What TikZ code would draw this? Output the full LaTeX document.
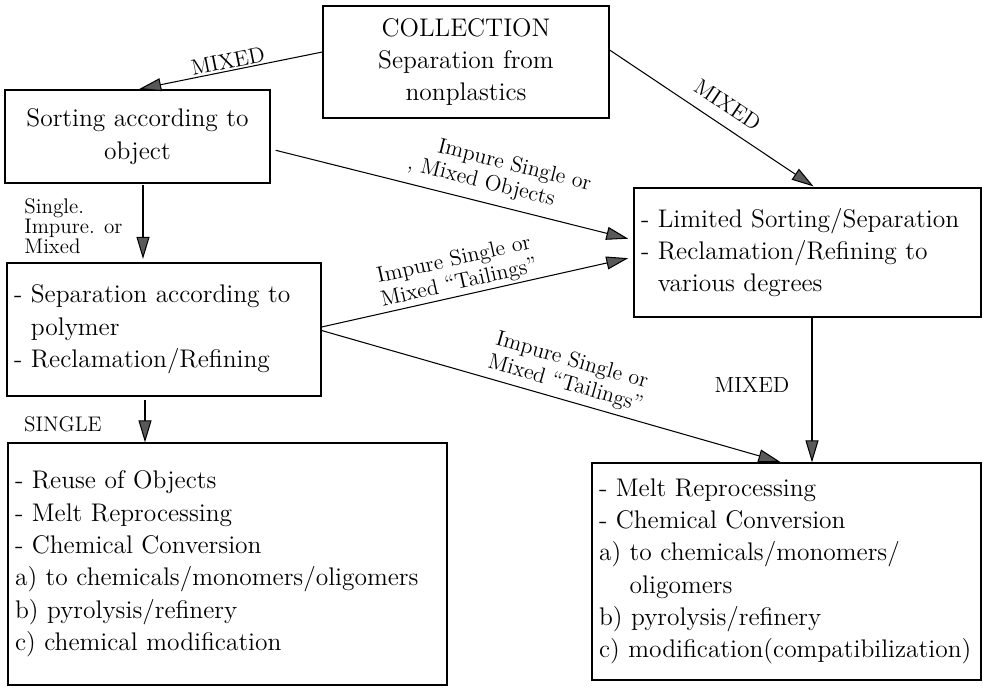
\documentclass[tikz,border=0pt]{standalone}
\usepackage{tikz}
\usetikzlibrary{arrows.meta}

\begin{document}
\begin{tikzpicture}[x=0.02cm, y=-0.02cm,
  box/.style={draw, line width=0.7pt, inner xsep=4pt, inner ysep=0pt, align=left, font=\fontsize{14.5}{18.4}\selectfont},
  lab/.style={font=\fontsize{12.5}{13.5}\selectfont, inner sep=1pt},
  small/.style={font=\fontsize{12}{11.6}\selectfont, inner sep=0pt},
  arr/.style={line width=0.6pt, -{Triangle[length=4.4mm, width=2.6mm, fill=black!65]}}]

\useasboundingbox (0,0) rectangle (983,687);

\node[box, align=center, text width=5.44cm, minimum height=2.24cm] (collect) at (466,62) {COLLECTION\\Separation from\\nonplastics};
\node[box, align=center, text width=5.02cm, minimum height=1.86cm] (sortobj) at (137.5,136.5) {Sorting according to\\object};
\node[box, text width=6.0cm, minimum height=2.66cm] (seppoly) at (164,329.5) {- Separation according to\\\phantom{- }polymer\\- Reclamation/Refining};
\node[box, text width=8.5cm, minimum height=4.84cm] (reuse) at (227.5,564) {- Reuse of Objects\\- Melt Reprocessing\\- Chemical Conversion\\a) to chemicals/monomers/oligomers\\b) pyrolysis/refinery\\c) chemical modification};
\node[box, text width=6.66cm, minimum height=2.58cm] (limited) at (807.5,252.5) {- Limited Sorting/Separation\\- Reclamation/Refining to\\\phantom{- }various degrees};
\node[box, text width=7.5cm, minimum height=4.34cm] (melt) at (786.5,571.5) {- Melt Reprocessing\\- Chemical Conversion\\a) to chemicals/monomers/\\\phantom{a) }oligomers\\b) pyrolysis/refinery\\c) modification(compatibilization)};

\draw[arr, shorten >=1pt] ([yshift=0.2cm]collect.west) -- (sortobj.north) node[midway, sloped, above, lab] {MIXED};
\draw[arr, shorten >=1pt] ([yshift=0.24cm]collect.east) -- ([xshift=0.15cm]limited.north) node[pos=0.52, sloped, above=6pt, lab] {MIXED};
\draw[arr, shorten <=3pt, shorten >=3pt] ([yshift=-0.25cm]sortobj.east) -- ([yshift=0.25cm]limited.west) node[pos=0.61, sloped, above=4pt, lab, align=left] {\hspace*{0.5cm}Impure Single or\\, Mixed Objects};
\draw[arr, shorten >=3pt] ([yshift=0.05cm]seppoly.east) -- ([yshift=-0.09cm]limited.west) node[pos=0.45, sloped, above, lab, align=center] {Impure Single or\\Mixed “Tailings”};
\draw[arr, shorten >=1pt] ([yshift=-0.02cm]seppoly.east) -- ([xshift=-0.09cm]melt.north) node[pos=0.52, sloped, above=2pt, lab, align=center] {Impure Single or\\Mixed “Tailings”};

\draw[arr, shorten <=1pt, shorten >=2pt] ([xshift=0.11cm]sortobj.south) -- ([xshift=0.11cm]sortobj.south |- seppoly.north);
\draw[arr, shorten <=2pt] ([xshift=-0.38cm]seppoly.south) -- ([xshift=-0.38cm]seppoly.south |- reuse.north);
\draw[arr] ([xshift=0.09cm]limited.south) -- ([xshift=0.09cm]limited.south |- melt.north);

\node[small, align=left, anchor=north west] (mixsort) at (24,198) {Single.\\Impure. or\\Mixed};
\node[small] (single) at (63,424) {SINGLE};
\node[lab] (mixdown) at (752,385) {MIXED};
\end{tikzpicture}
\end{document}
